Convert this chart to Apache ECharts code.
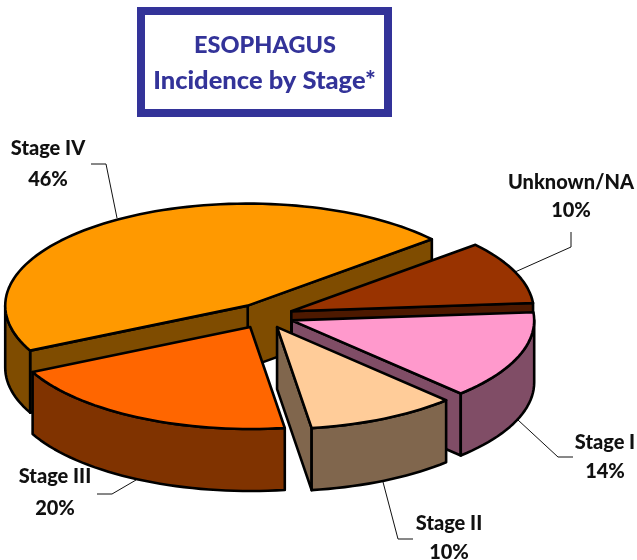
<!DOCTYPE html>
<html><head><meta charset="utf-8">
<style>html,body{margin:0;padding:0;background:#fff}#c{width:637px;height:560px}</style>
<script src="https://cdn.jsdelivr.net/npm/echarts@6/dist/echarts.min.js"></script>
</head><body><div id="c"></div>
<script>
const categories = ['Stage IV','Stage III','Stage II','Stage I','Unknown/NA'];
const values = [46,20,10,14,10];
const topColors = ['#FF9900','#FF6600','#FFCC99','#FF99CC','#993300'];
const wallColors = ['#7F4C00','#803300','#80664D','#804D66','#4D1900'];
const paintOrder = [0,4,3,1,2];
const nameCentres = [[48,149],[55,477],[449,524],[605,443],[571,183]];
const pctCentres = [[48,180],[55,509],[449,553],[605,472],[571,211]];
const leaders = [
 [[117,218],[106,164],[91,164]],
 [[136,480],[112,494],[97,494]],
 [[383,482],[398,539],[413,539]],
 [[518,420],[558,457],[573,457]],
 [[515,272],[571,247],[571,232]]
];
const CX=264, CY=316, RX=242.5, RY=102, DEPTH=62, EXPLODE=0.122, START=-40.6;
const FONT='Lato, Carlito, sans-serif';
const LABEL_FONT='900 20px '+FONT;
const total=values.reduce((a,b)=>a+b,0);
const spans=[];let cur=START;
values.forEach(v=>{const next=cur-v/total*360;spans.push([cur,next]);cur=next;});
const rad=d=>d*Math.PI/180;

function renderItem(params,api){
  const i=paintOrder[params.dataIndex];
  const val=api.value(0);
  const a0=spans[i][0], a1=a0-val/total*360, mid=(a0+a1)/2;
  const ox=CX+EXPLODE*RX*Math.cos(rad(mid)), oy=CY+EXPLODE*RY*Math.sin(rad(mid));
  const pt=(deg,dz)=>[ox+RX*Math.cos(rad(deg)),oy+RY*Math.sin(rad(deg))+(dz||0)];
  const arc=(from,to,dz)=>{const n=Math.max(2,Math.ceil(Math.abs(to-from)/2));const r=[];for(let k=0;k<=n;k++)r.push(pt(from+(to-from)*k/n,dz));return r;};
  const line={stroke:'#000',lineWidth:2.6,lineJoin:'round'};
  const kids=[];
  const poly=(points,fill)=>kids.push({type:'polygon',shape:{points},style:Object.assign({fill},line)});
  const q=pt(mid);
  [a0,a1].forEach(a=>{
    const p=pt(a), ex=p[0]-ox, ey=p[1]-oy;
    const side=ex*(q[1]-oy)-ey*(q[0]-ox);
    // a radial wall shows only when "down" leaves the slice's top face
    if(ex*side<0) poly([[ox,oy],p,pt(a,DEPTH),[ox,oy+DEPTH]],wallColors[i]);
  });
  for(const base of [-360,0]){
    const lo=Math.max(a1,base), hi=Math.min(a0,base+180);
    if(hi>lo) poly(arc(hi,lo,0).concat(arc(lo,hi,DEPTH)),wallColors[i]);
  }
  poly([[ox,oy]].concat(arc(a0,a1,0)),topColors[i]);
  return {type:'group',children:kids};
}

const annotations=categories.map((c,i)=>({
  type:'group',silent:true,children:[
   {type:'polyline',shape:{points:leaders[i]},style:{stroke:'#111',lineWidth:1,fill:null}},
   {type:'text',x:nameCentres[i][0],y:nameCentres[i][1],style:{text:c,font:LABEL_FONT,fill:'#111',align:'center',verticalAlign:'middle'}},
   {type:'text',x:pctCentres[i][0],y:pctCentres[i][1],style:{text:values[i]+'%',font:LABEL_FONT,fill:'#111',align:'center',verticalAlign:'middle'}}
  ]}));

const chart=echarts.init(document.getElementById('c'),null,{renderer:'canvas'});
chart.setOption({
  animation:false,
  backgroundColor:'#fff',
  title:[
   {text:'ESOPHAGUS',left:265,top:33,textAlign:'center',padding:0,
    textStyle:{color:'#333399',fontFamily:FONT,fontWeight:900,fontSize:23.5}},
   {text:'Incidence by Stage*',left:264.5,top:68,textAlign:'center',padding:0,
    textStyle:{color:'#333399',fontFamily:FONT,fontWeight:900,fontSize:25.5}}
  ],
  graphic:[{type:'rect',z:-1,shape:{x:141,y:11,width:247,height:102},style:{fill:'#fff',stroke:'#333399',lineWidth:8}}].concat(annotations),
  series:[{type:'custom',coordinateSystem:'none',silent:true,renderItem,
    data:paintOrder.map(i=>({name:categories[i],value:[values[i]]}))}]
});
</script></body></html>
